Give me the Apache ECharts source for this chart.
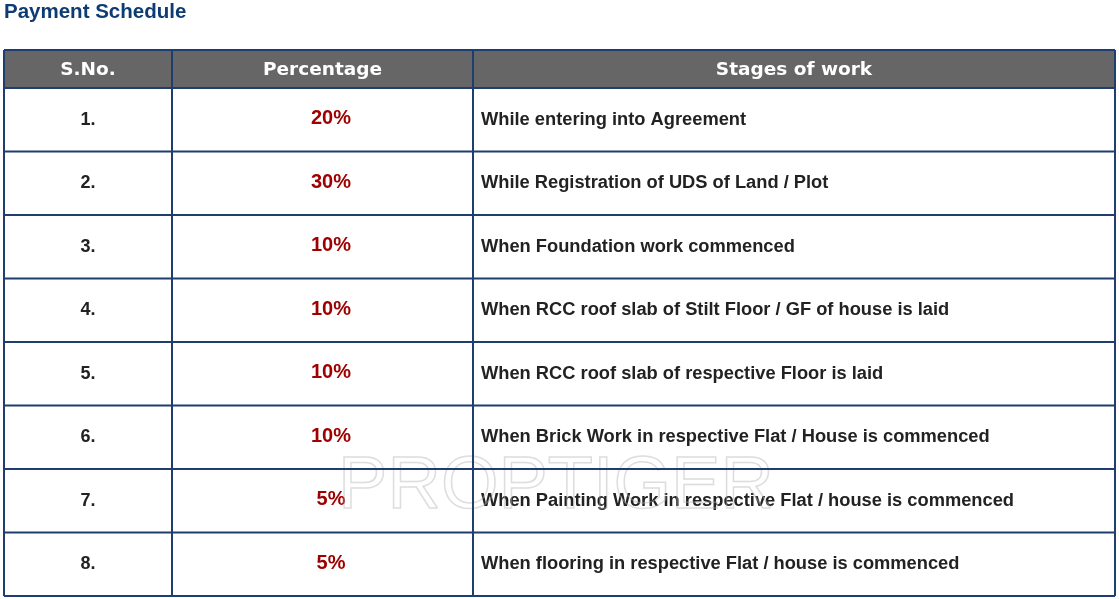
<!DOCTYPE html>
<html><head><meta charset="utf-8">
<script src="https://cdn.jsdelivr.net/npm/echarts@6/dist/echarts.min.js"></script>
<style>html,body{margin:0;padding:0;background:#fff}#main{width:1119px;height:599px}</style>
</head><body><div id="main"></div>
<script>
// table data
var headers = ['S.No.', 'Percentage', 'Stages of work'];
var serialNos = ['1.', '2.', '3.', '4.', '5.', '6.', '7.', '8.'];
var percentages = ['20%', '30%', '10%', '10%', '10%', '10%', '5%', '5%'];
var stages = [
	'While entering into Agreement',
	'While Registration of UDS of Land / Plot',
	'When Foundation work commenced',
	'When RCC roof slab of Stilt Floor / GF of house is laid',
	'When RCC roof slab of respective Floor is laid',
	'When Brick Work in respective Flat / House is commenced',
	'When Painting Work in respective Flat / house is commenced',
	'When flooring in respective Flat / house is commenced'
];

var chart = echarts.init(document.getElementById('main'));
var colX = [4, 172, 473, 1115];
var top0 = 50, headH = 38, rowH = 63.5;
var border = '#1f3d6e';
var arial = 'Liberation Sans';
var els = [];

function txt(x, y, s, fill, size, family, align){
	return {type:'text', x:x, y:y, style:{text:s, fill:fill, fontSize:size, fontWeight:'bold', fontFamily:family, textAlign:align, textVerticalAlign:'middle'}};
}

els.push(txt(4, 12, 'Payment Schedule', '#0d3b73', 20.5, arial, 'left'));
// header
els.push({type:'rect', shape:{x:colX[0], y:top0, width:colX[3]-colX[0], height:headH}, style:{fill:'#666666'}});
headers.forEach(function(h, i){
	els.push(txt((colX[i]+colX[i+1])/2, top0+headH/2+1, h, '#fff', 18.5, 'DejaVu Sans', 'center'));
});
// rows
serialNos.forEach(function(s, r){
	var cy = top0 + headH + rowH*r + rowH/2;
	els.push(txt((colX[0]+colX[1])/2, cy, s, '#222', 18, arial, 'center'));
	els.push(txt(331, cy-1, percentages[r], '#a00000', 20, arial, 'center'));
	els.push(txt(481, cy, stages[r], '#222', 18.3, arial, 'left'));
});
// watermark
els.push({type:'text', x:556, y:488, style:{text:'PROPTIGER', fill:'rgba(255,255,255,0)', stroke:'rgba(180,180,180,0.45)', lineWidth:1.5, fontSize:74, fontFamily:arial, textAlign:'center', textVerticalAlign:'middle'}});
// grid lines
var bottom = top0 + headH + rowH*serialNos.length;
for (var r = 0; r <= serialNos.length + 1; r++) {
	var y = r === 0 ? top0 : top0 + headH + rowH*(r-1);
	els.push({type:'line', shape:{x1:colX[0], y1:y, x2:colX[3], y2:y}, style:{stroke:border, lineWidth:2}});
}
colX.forEach(function(x){
	els.push({type:'line', shape:{x1:x, y1:top0, x2:x, y2:bottom}, style:{stroke:border, lineWidth:2}});
});

chart.setOption({graphic:{elements:els}});
</script></body></html>
